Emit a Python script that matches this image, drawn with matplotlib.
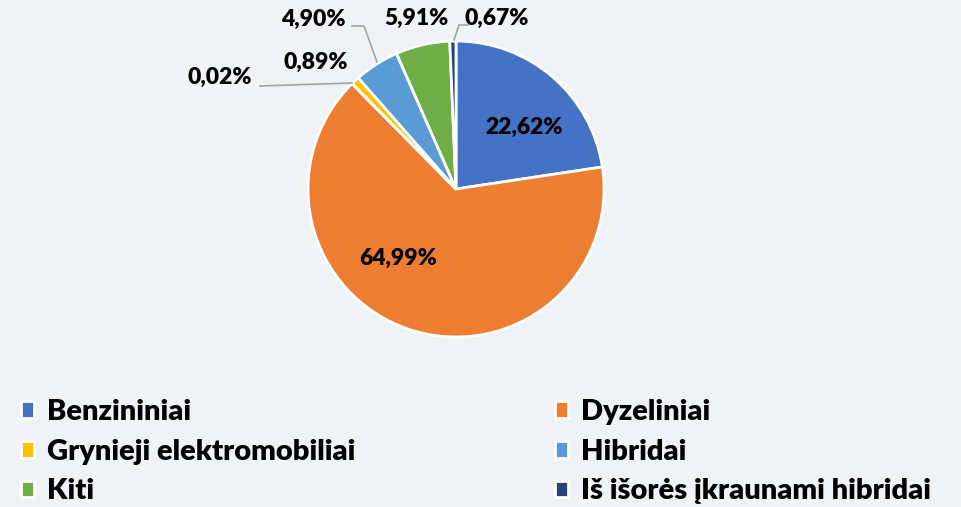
import matplotlib.pyplot as plt

# categories in pie order (clockwise from 12 o'clock)
labels = ['Benzininiai', 'Dyzeliniai', 'Kita', 'Grynieji elektromobiliai',
          'Hibridai', 'Kiti', 'Iš išorės įkraunami hibridai']
values = [22.62, 64.99, 0.02, 0.89, 4.90, 5.91, 0.67]
colors = ['#4472C4', '#ED7D31', '#A5A5A5', '#FFC000', '#5B9BD5', '#70AD47', '#264478']

bg = '#EFF2F6'
plt.rcParams['font.family'] = ['Lato', 'DejaVu Sans']

fig = plt.figure(figsize=(9.61, 5.07), dpi=100, facecolor=bg)
W, H = 961, 507
cx, cy, r = 456, 189, 148
ax = fig.add_axes([(cx - r) / W, (H - cy - r) / H, 2 * r / W, 2 * r / H])
ax.set_facecolor(bg)

wedges, _ = ax.pie(values, colors=colors, startangle=90, counterclock=False,
                   wedgeprops=dict(edgecolor='white', linewidth=2))
ax.set_xlim(-1, 1)
ax.set_ylim(-1, 1)
ax.set_aspect('equal')
ax.axis('off')


def lab(v):
    return f'{v:.2f}%'.replace('.', ',')


def px(x, y):
    # pixel position -> data coords of the pie axes
    return ((x - cx) / r, (cy - y) / r)


tkw = dict(fontsize=16.5, fontweight='heavy', ha='center', va='center', color='black')
# inside labels
ax.text(*px(524, 127), lab(values[0]), **tkw)
ax.text(*px(398, 258), lab(values[1]), **tkw)

# outside labels with leader lines
lc = '#A5A5A5'
ax.text(*px(220, 77), lab(values[2]), clip_on=False, **tkw)
ax.plot(*zip(px(260, 86), px(352, 83)), color=lc, lw=1.2, clip_on=False)
ax.text(*px(316, 62), lab(values[3]), clip_on=False, **tkw)
ax.text(*px(313, 19), lab(values[4]), clip_on=False, **tkw)
ax.plot(*zip(px(352, 26), px(364, 26), px(377, 62)), color=lc, lw=1.2, clip_on=False)
ax.text(*px(416, 18), lab(values[5]), clip_on=False, **tkw)
ax.text(*px(497, 18), lab(values[6]), clip_on=False, **tkw)
ax.plot(*zip(px(468, 25), px(459, 25), px(454, 40)), color=lc, lw=1.2, clip_on=False)

# legend in two columns (grey category not listed)
lkw = dict(loc='upper left', frameon=False, handlelength=0.45, handleheight=0.5,
           handletextpad=0.45, labelspacing=0.47, borderpad=0, borderaxespad=0,
           prop=dict(weight='heavy', size=21))
for col, x0 in (([0, 3, 5], 21), ([1, 4, 6], 555)):
    fig.legend([wedges[i] for i in col], [labels[i] for i in col],
               bbox_to_anchor=(x0 / W, 1 - 399 / H), **lkw)

fig.savefig('out.png', dpi=100, facecolor=bg)
